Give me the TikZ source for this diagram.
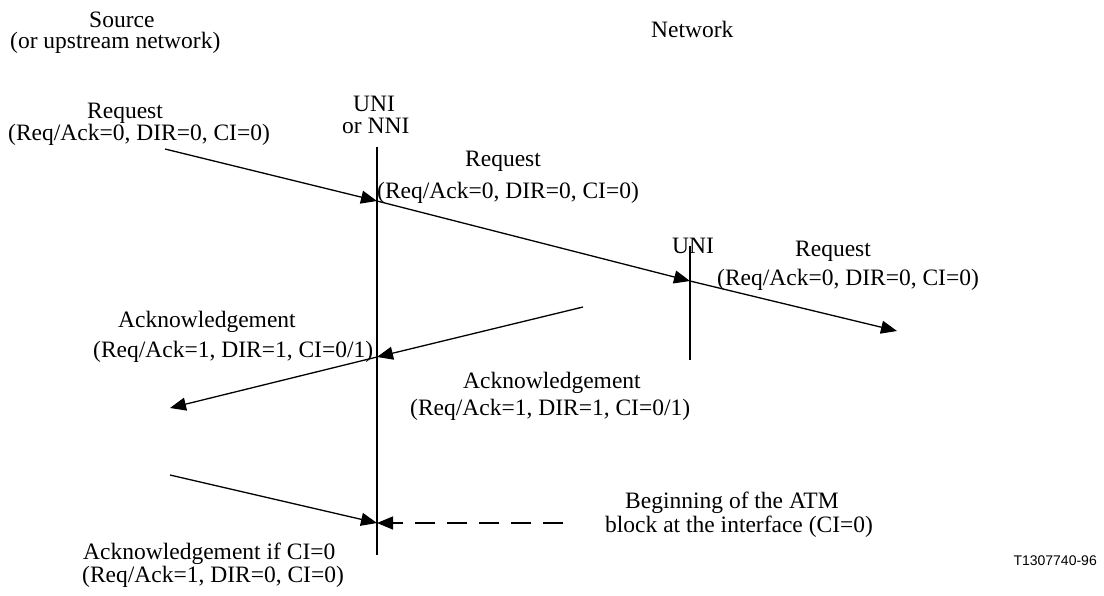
\documentclass[tikz,border=0pt]{standalone}
\usepackage{fontspec}
\setmainfont{Liberation Serif}
\setsansfont{Liberation Sans}
\usetikzlibrary{arrows.meta}
\tikzset{
  lbl/.style={anchor=base west, inner sep=0pt, font=\fontsize{23.5}{22}\selectfont},
  ln/.style={line width=1.3pt},
  arr/.style={ln, -{Triangle[length=16pt,width=13pt]}},
  darr/.style={ln, dash pattern=on 20pt off 12pt, -{Triangle[length=16pt,width=13pt]}},
}
\begin{document}
\begin{tikzpicture}[x=1pt,y=-1pt]
\useasboundingbox (0,0) rectangle (1104,595);
% texts
\node[lbl] (src1) at (89,27) {Source};
\node[lbl] (src2) at (10,48) {(or upstream network)};
\node[lbl] (net) at (651,37) {Network};
\node[lbl] (rq1a) at (87,118) {Request};
\node[lbl] (rq1b) at (8,140) {(Req/Ack=0, DIR=0, CI=0)};
\node[lbl] (uni1a) at (353,111) {UNI};
\node[lbl] (uni1b) at (342,133) {or NNI};
\node[lbl] (rq2a) at (465,166) {Request};
\node[lbl] (rq2b) at (377,198) {(Req/Ack=0, DIR=0, CI=0)};
\node[lbl] (uni2) at (672,253) {UNI};
\node[lbl] (rq3a) at (795,256) {Request};
\node[lbl] (rq3b) at (717,285) {(Req/Ack=0, DIR=0, CI=0)};
\node[lbl] (ack1a) at (118,327) {Acknowledgement};
\node[lbl] (ack1b) at (93,357) {(Req/Ack=1, DIR=1, CI=0/1)};
\node[lbl] (ack2a) at (463,388) {Acknowledgement};
\node[lbl] (ack2b) at (410,415) {(Req/Ack=1, DIR=1, CI=0/1)};
\node[lbl] (beg1) at (625,508) {Beginning of the ATM};
\node[lbl] (beg2) at (605,532) {block at the interface (CI=0)};
\node[lbl] (ack3a) at (83,559) {Acknowledgement if CI=0};
\node[lbl] (ack3b) at (82,582) {(Req/Ack=1, DIR=0, CI=0)};
\node[anchor=base east, inner sep=0pt, font=\sffamily\fontsize{14}{16}\selectfont] (fig) at (1097,565) {T1307740-96};
% coordinates
\coordinate (v1t) at (377,147);
\coordinate (v1b) at (377,555);
\coordinate (v2t) at (690,246);
\coordinate (v2b) at (690,360);
\coordinate (a1s) at (165,149);
\coordinate (a1e) at (377,201);
\coordinate (a2e) at (690,281);
\coordinate (a3e) at (897,331);
\coordinate (k1s) at (583,307);
\coordinate (k1e) at (377,357);
\coordinate (k2e) at (170,408);
\coordinate (a5s) at (170,475);
\coordinate (a5e) at (377,523);
\coordinate (ds) at (563,523);
% lines
\draw[ln] (v1t) -- (v1b);
\draw[ln] (v2t) -- (v2b);
\draw[arr] (a1s) -- (a1e);
\draw[arr] (a1e) -- (a2e);
\draw[arr] (a2e) -- (a3e);
\draw[arr] (k1s) -- (k1e);
\draw[arr] (k1e) -- (k2e);
\draw[arr] (a5s) -- (a5e);
\draw[darr] (ds) -- (a5e);
\end{tikzpicture}
\end{document}
